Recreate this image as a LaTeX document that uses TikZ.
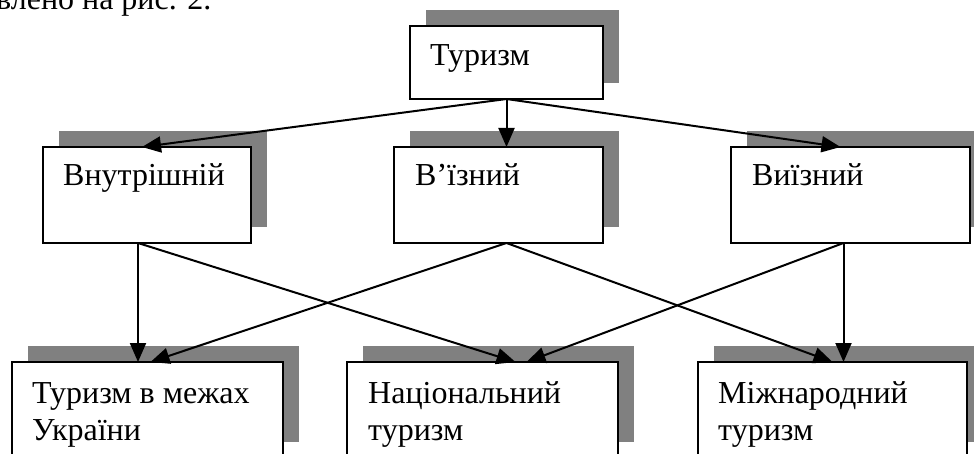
\documentclass[tikz,border=0pt]{standalone}
\usepackage{fontspec}
\setmainfont{Liberation Serif}
\newfontfamily\tnr{Liberation Serif}
\usetikzlibrary{arrows.meta,calc,shadows}
\definecolor{shadowgray}{RGB}{128,128,128}
\tikzset{
  box/.style={draw=black, fill=white, line width=2pt, inner sep=0pt, outer sep=0pt,
    anchor=north west,
    drop shadow={shadow xshift=16pt, shadow yshift=16pt, fill=shadowgray, opacity=1, draw=none}},
  lbl/.style={anchor=base west, inner sep=0pt, font=\tnr\fontsize{32}{37}\selectfont},
  arr/.style={line width=2pt, -{Triangle[length=19pt,width=16pt]}}
}
\begin{document}
\begin{tikzpicture}[x=1pt,y=1pt]
\useasboundingbox (0,0) rectangle (974,-454);
\node[lbl] (cap) at (-4,-10) {влено на рис. 2.};
% boxes
\node[box, minimum width=193pt, minimum height=73pt] (t) at (410,-26) {};
\node[box, minimum width=208pt, minimum height=96pt] (a) at (43,-147) {};
\node[box, minimum width=209pt, minimum height=96pt] (b) at (394,-147) {};
\node[box, minimum width=239pt, minimum height=96pt] (c) at (731,-147) {};
\node[box, minimum width=271pt, minimum height=96pt] (d) at (12,-362) {};
\node[box, minimum width=271pt, minimum height=96pt] (e) at (347,-362) {};
\node[box, minimum width=269pt, minimum height=96pt] (f) at (698,-362) {};
% texts
\node[lbl] (tt) at ($(t.north west)+(20,-40)$) {Туризм};
\node[lbl] (at) at ($(a.north west)+(20,-39)$) {Внутрішній};
\node[lbl] (bt) at ($(b.north west)+(21,-39)$) {В’їзний};
\node[lbl] (ct) at ($(c.north west)+(21,-39)$) {Виїзний};
\node[lbl] (dt) at ($(d.north west)+(20,-41)$) {\parbox[t]{250pt}{\tnr\fontsize{32}{37}\selectfont Туризм в межах\\України}};
\node[lbl] (et) at ($(e.north west)+(21,-41)$) {\parbox[t]{250pt}{\tnr\fontsize{32}{37}\selectfont Національний\\туризм}};
\node[lbl] (ft) at ($(f.north west)+(20,-41)$) {\parbox[t]{250pt}{\tnr\fontsize{32}{37}\selectfont Міжнародний\\туризм}};
% connectors
\draw[arr] (t.south) -- ($(a.north)+(-5,0)$);
\draw[arr] (t.south) -- (t.south |- b.north);
\draw[arr] (t.south) -- ($(c.north)+(-10,0)$);
\coordinate (as) at ($(a.south)+(-9,0)$);
\coordinate (bs) at ($(b.south)+(8,0)$);
\coordinate (cs) at ($(c.south)+(-7,0)$);
\draw[arr] (as) -- (as |- d.north);
\draw[arr] (as) -- ($(e.north)+(33,0)$);
\draw[arr] (bs) -- ($(d.north)+(3,0)$);
\draw[arr] (bs) -- ($(f.north)+(0,0)$);
\draw[arr] (cs) -- ($(e.north)+(44,0)$);
\draw[arr] (cs) -- (cs |- f.north);
\end{tikzpicture}
\end{document}
